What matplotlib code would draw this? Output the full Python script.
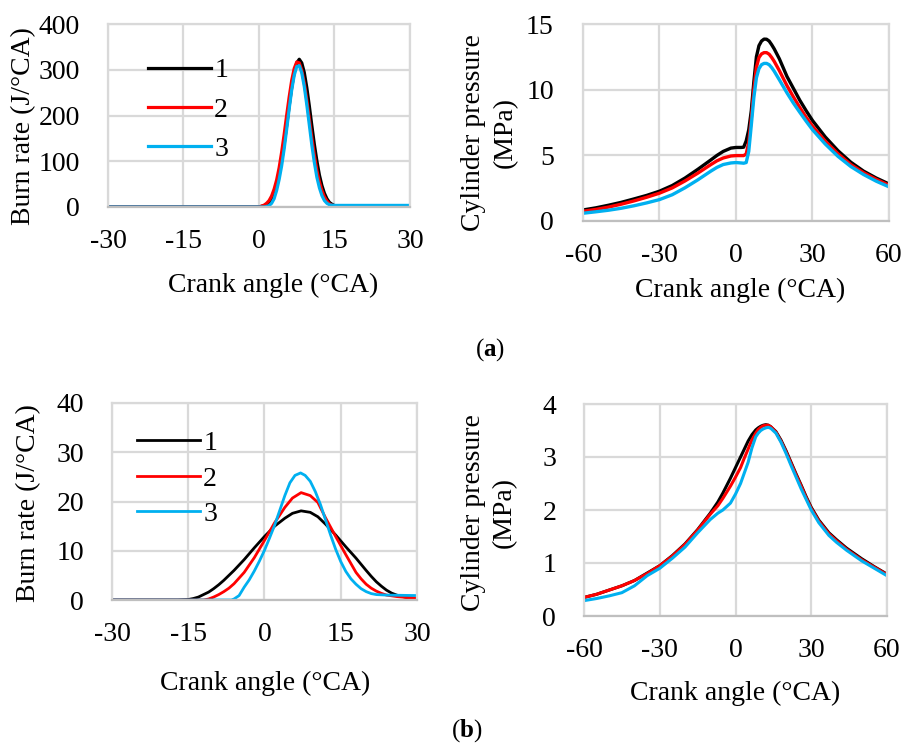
import matplotlib
matplotlib.use("Agg")
import matplotlib.pyplot as plt

plt.rcParams['font.family'] = ['Liberation Serif', 'DejaVu Serif']
plt.rcParams['mathtext.fontset'] = 'custom'
plt.rcParams['mathtext.rm'] = 'Liberation Serif'
plt.rcParams['mathtext.bf'] = 'Liberation Serif:bold'
plt.rcParams['axes.unicode_minus'] = False

# (a) high load: burn rate, J/°CA
ang_a_burn = [-30, 0, 1, 1.5, 2, 2.5, 3, 3.5, 4, 4.5, 5, 5.5, 6, 6.5, 7, 7.5, 8,
              8.5, 9, 9.5, 10, 10.5, 11, 11.5, 12, 12.5, 13, 13.5, 14, 14.5, 15, 16, 30]
burn_a1 = [0, 0, 3, 6, 10, 18, 30, 47, 70, 101, 137, 178, 221, 261, 294, 315, 323,
           315, 294, 261, 221, 178, 137, 101, 70, 47, 30, 18, 10, 6, 3, 1, 0]
burn_a2 = [0, 0, 4, 8, 14, 24, 39, 59, 86, 120, 159, 201, 241, 277, 303, 317, 315,
           299, 271, 234, 192, 151, 113, 80, 55, 36, 22, 13, 7, 4, 2, 0, 0]
burn_a3 = [0, 0, 0, 1, 3, 8, 18, 36, 60, 90, 127, 170, 215, 256, 288, 307, 309,
           293, 263, 223, 179, 135, 97, 65, 42, 25, 14, 8, 5, 4, 3.5, 3.5, 3.5]

# (a) high load: cylinder pressure, MPa
ang_a_p = [-60, -55, -50, -45, -40, -35, -30, -25, -20, -15, -10, -7.5, -5, -2, 0, 2, 3,
           4, 5, 6, 7, 8, 9, 10, 11, 12, 13, 14, 15, 17, 20, 22.5, 25, 27.5, 30, 35, 40, 45, 50, 55, 60]
p_a1 = [0.84, 1.0, 1.2, 1.42, 1.68, 1.95, 2.27, 2.7, 3.27, 3.93, 4.63, 4.99, 5.3, 5.55, 5.6, 5.6, 5.62,
        6.1, 6.95, 8.4, 10.6, 12.5, 13.35, 13.7, 13.85, 13.84, 13.7, 13.42, 13.1, 12.35, 11.0, 10.1, 9.2, 8.4, 7.65,
        6.4, 5.35, 4.48, 3.8, 3.27, 2.82]
p_a2 = [0.74, 0.88, 1.06, 1.28, 1.53, 1.81, 2.12, 2.52, 3.05, 3.64, 4.28, 4.58, 4.8, 4.95, 4.98, 4.98, 4.98,
        5.1, 6.0, 7.8, 10.0, 11.7, 12.45, 12.72, 12.82, 12.82, 12.7, 12.45, 12.15, 11.45, 10.3, 9.45, 8.65, 7.9, 7.22,
        6.08, 5.12, 4.3, 3.68, 3.17, 2.72]
p_a3 = [0.59, 0.7, 0.82, 0.97, 1.16, 1.38, 1.63, 2.0, 2.53, 3.13, 3.78, 4.08, 4.3, 4.42, 4.45, 4.42, 4.4,
        4.45, 5.3, 7.3, 9.4, 10.9, 11.6, 11.9, 12.0, 12.0, 11.9, 11.68, 11.4, 10.75, 9.75, 8.98, 8.28, 7.6, 6.95,
        5.86, 4.92, 4.15, 3.54, 3.03, 2.6]

# (b) low load: burn rate, J/°CA
ang_b_burn1 = [-30, -17, -15, -14, -13, -12, -11, -10, -9, -8, -6, -4, -2, 0, 2, 4, 5.5, 7.2, 9, 10.5, 12,
               14, 16, 18, 20, 21, 22, 23, 24, 25, 26, 28, 30]
burn_b1 = [0, 0, 0.1, 0.3, 0.6, 1.1, 1.6, 2.3, 3.1, 4.0, 6.0, 8.2, 10.6, 12.9, 15.0, 16.6, 17.6, 18.1, 17.8, 16.9, 15.4,
           13.2, 10.8, 8.5, 6.0, 4.8, 3.7, 2.8, 2.0, 1.4, 1.0, 0.5, 0.3]
ang_b_burn2 = [-30, -12, -11, -10, -9, -8, -7, -6, -4, -2, 0, 2, 4, 5.5, 7.2, 9, 10.5, 12,
               14, 16, 18, 19, 20, 21, 22, 23, 24, 26, 28, 30]
burn_b2 = [0, 0, 0.2, 0.6, 1.1, 1.7, 2.4, 3.3, 5.6, 8.6, 12.1, 15.7, 18.8, 20.7, 21.8, 21.2, 19.8, 16.7,
           12.9, 9.2, 5.6, 4.3, 3.2, 2.4, 1.8, 1.35, 1.0, 0.7, 0.5, 0.4]
ang_b_burn3 = [-30, -6.5, -6, -5, -4, -3, -2, -1, 0, 1, 2, 3, 4, 5, 6, 7.1, 8, 9, 10, 11, 12,
               13, 14, 15, 16, 17, 18, 19, 20, 21, 22, 24, 30]
burn_b3 = [0, 0, 0.2, 0.9, 2.6, 4.1, 5.9, 7.9, 10.1, 12.6, 15.2, 18.2, 21.2, 23.8, 25.3, 25.8, 25.3, 24.1, 22.0, 19.4, 16.3,
           13.2, 10.3, 7.8, 5.8, 4.3, 3.2, 2.3, 1.7, 1.3, 1.1, 1.0, 0.9]

# (b) low load: cylinder pressure, MPa
ang_b_p = [-60, -55, -50, -45, -40, -35, -30, -25, -20, -15, -10, -7, -5, -2, 0, 2, 3.5, 5, 6.5, 8, 9, 10,
           11, 12, 13, 14, 16, 18, 20, 22, 24, 26, 28, 30, 33, 37, 40, 44, 50, 55, 60]
p_b1 = [0.35, 0.41, 0.49, 0.57, 0.67, 0.81, 0.95, 1.14, 1.36, 1.63, 1.94, 2.15, 2.32, 2.6, 2.8, 3.0, 3.15, 3.3, 3.42,
        3.51, 3.55, 3.58, 3.6, 3.61, 3.6, 3.57, 3.48, 3.32, 3.12, 2.9, 2.68, 2.47, 2.25, 2.05, 1.81, 1.57, 1.44,
        1.28, 1.08, 0.93, 0.79]
p_b2 = [0.35, 0.41, 0.49, 0.57, 0.67, 0.8, 0.95, 1.13, 1.35, 1.62, 1.92, 2.08, 2.22, 2.45, 2.62, 2.8, 2.98, 3.15, 3.32,
        3.45, 3.52, 3.56, 3.59, 3.6, 3.6, 3.57, 3.47, 3.3, 3.1, 2.88, 2.66, 2.45, 2.23, 2.03, 1.79, 1.55, 1.42,
        1.26, 1.06, 0.92, 0.78]
p_b3 = [0.29, 0.33, 0.38, 0.44, 0.57, 0.76, 0.9, 1.09, 1.3, 1.57, 1.82, 1.94, 2.0, 2.13, 2.3, 2.5, 2.7, 2.9, 3.17,
        3.38, 3.45, 3.5, 3.53, 3.55, 3.56, 3.54, 3.45, 3.28, 3.07, 2.84, 2.62, 2.4, 2.2, 2.0, 1.76, 1.52, 1.39,
        1.24, 1.04, 0.9, 0.76]

labels = ['1', '2', '3']
colors = ['#000000', '#FF0000', '#00B0F0']
W, H = 903, 746
GRID = '#D9D9D9'
FS = 20


def make_axes(fig, left, top, right, bottom):
    # axes box given in pixels from the top-left corner
    return fig.add_axes([left / W, 1 - bottom / H, (right - left) / W, (bottom - top) / H])


def style(ax, xticks, yticks, xlabel, ylabel, xl_xy, yl_xy, ypad, linesp=1.2):
    ax.set_xlim(xticks[0], xticks[-1])
    ax.set_ylim(yticks[0], yticks[-1])
    ax.set_xticks(xticks)
    ax.set_yticks(yticks)
    ax.tick_params(length=0, labelsize=FS)
    ax.tick_params(axis='x', pad=16)
    ax.tick_params(axis='y', pad=ypad)
    ax.grid(True, color=GRID, lw=1.6)
    ax.set_axisbelow(True)
    for s in ax.spines.values():
        s.set_color(GRID)
        s.set_linewidth(1.6)
    ax.spines['bottom'].set_color('#BFBFBF')
    ax.set_xlabel(xlabel, fontsize=FS, va='center')
    ax.set_ylabel(ylabel, fontsize=FS, va='center', ha='center', linespacing=linesp)
    ax.xaxis.set_label_coords(*xl_xy)
    ax.yaxis.set_label_coords(*yl_xy)


fig = plt.figure(figsize=(W / 100, H / 100), dpi=100)

ax1 = make_axes(fig, 108, 24, 410, 207)
for y, c, lab in zip([burn_a1, burn_a2, burn_a3], colors, labels):
    ax1.plot(ang_a_burn, y, color=c, lw=2.3, label=lab)
style(ax1, [-30, -15, 0, 15, 30], [0, 100, 200, 300, 400],
      'Crank angle (°CA)', 'Burn rate (J/°CA)', (0.546, -0.426), (-0.281, 0.443), 20)
ax1.legend(loc='upper left', bbox_to_anchor=(0.085, 0.89), frameon=False, fontsize=FS,
           handlelength=2.3, handletextpad=0.1, labelspacing=0.5, borderpad=0)

ax2 = make_axes(fig, 583, 24, 889, 221)
for y, c in zip([p_a1, p_a2, p_a3], colors):
    ax2.plot(ang_a_p, y, color=c, lw=2.4)
style(ax2, [-60, -30, 0, 30, 60], [0, 5, 10, 15],
      'Crank angle (°CA)', 'Cylinder pressure\n(MPa)', (0.513, -0.35), (-0.307, 0.447), 21, 1.35)

ax3 = make_axes(fig, 112, 403, 417, 600)
for a, y, c, lab in zip([ang_b_burn1, ang_b_burn2, ang_b_burn3], [burn_b1, burn_b2, burn_b3], colors, labels):
    ax3.plot(a, y, color=c, lw=2.0, label=lab)
style(ax3, [-30, -15, 0, 15, 30], [0, 10, 20, 30, 40],
      'Crank angle (°CA)', 'Burn rate (J/°CA)', (0.502, -0.421), (-0.275, 0.492), 20)
ax3.legend(loc='upper left', bbox_to_anchor=(0.035, 0.93), frameon=False, fontsize=FS,
           handlelength=2.3, handletextpad=0.1, labelspacing=0.36, borderpad=0)

ax4 = make_axes(fig, 584, 404, 887, 616)
for y, c in zip([p_b1, p_b2, p_b3], colors):
    ax4.plot(ang_b_p, y, color=c, lw=2.2)
style(ax4, [-60, -30, 0, 30, 60], [0, 1, 2, 3, 4],
      'Crank angle (°CA)', 'Cylinder pressure\n(MPa)', (0.498, -0.363), (-0.314, 0.486), 20, 1.35)

fig.text(490 / W, 1 - 350 / H, r'($\mathbf{a}$)', fontsize=18, ha='center', va='center')
fig.text(467 / W, 1 - 731 / H, r'($\mathbf{b}$)', fontsize=18, ha='center', va='center')

fig.savefig('out.png', dpi=100)
